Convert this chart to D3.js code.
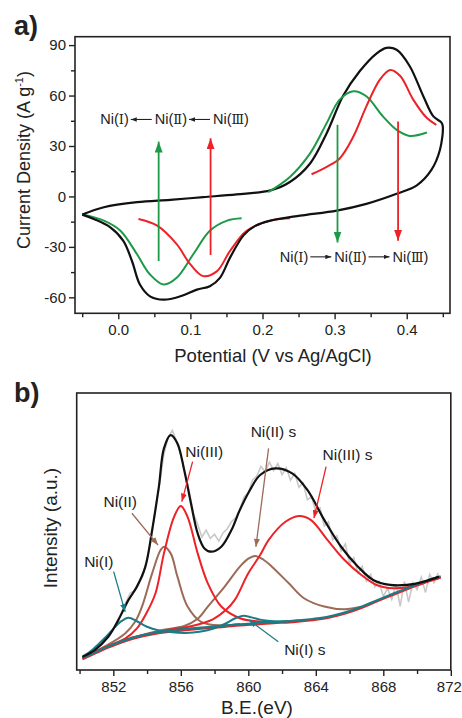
<!DOCTYPE html>
<html>
<head>
<meta charset="utf-8">
<script src="https://cdn.jsdelivr.net/npm/d3@7"></script>
<style>
  body { margin: 0; background: #fff; }
  text { font-family: "Liberation Sans", Arial, sans-serif; fill: #222; }
</style>
</head>
<body>
<svg id="chart" width="462" height="718"></svg>
<script>
// ---------- panel a : cyclic voltammogram (potential V, current A/g) ----------
const cvLoop = [
  [-0.050,-10.8],[-0.020,-6.4],[0.026,-3.4],[0.072,-2.0],[0.118,-0.4],[0.164,1.2],[0.211,3.6],
  [0.238,8.6],[0.266,19.6],[0.289,37.6],[0.312,60.0],[0.335,74.6],[0.358,85.0],[0.372,88.4],
  [0.386,87.2],[0.404,77.6],[0.423,59.6],[0.437,47.6],[0.448,44.0],[0.450,41.6],[0.446,27.6],
  [0.434,15.6],[0.414,6.6],[0.386,1.6],[0.344,-4.4],[0.303,-8.4],[0.252,-11.4],[0.211,-14.4],
  [0.190,-17.5],[0.174,-23.0],[0.155,-36.4],[0.141,-48.4],[0.127,-53.4],[0.109,-55.4],
  [0.086,-59.4],[0.063,-61.4],[0.044,-59.4],[0.030,-52.4],[0.019,-38.4],[0.007,-26.4],
  [-0.011,-18.4],[-0.034,-13.4],[-0.050,-10.8]
];
const greenCathodic = [
  [-0.050,-10.8],[-0.020,-14.4],[0.003,-20.4],[0.026,-34.4],[0.044,-46.4],[0.063,-52.4],
  [0.081,-48.4],[0.104,-34.4],[0.127,-20.4],[0.151,-14.4],[0.171,-13.0]
];
const redCathodic = [
  [0.028,-13.4],[0.054,-17.4],[0.081,-28.4],[0.100,-40.4],[0.118,-47.4],[0.137,-44.4],
  [0.155,-32.4],[0.178,-20.4],[0.211,-14.4],[0.238,-13.0]
];
const greenAnodic = [
  [0.208,2.6],[0.238,11.6],[0.266,25.6],[0.289,43.6],[0.307,57.6],[0.326,62.6],[0.344,59.6],
  [0.367,47.6],[0.386,39.6],[0.404,36.0],[0.428,38.0]
];
const redAnodic = [
  [0.268,13.2],[0.289,17.6],[0.307,22.6],[0.326,35.6],[0.344,53.6],[0.363,69.6],[0.377,75.2],
  [0.391,71.6],[0.409,57.6],[0.428,46.6],[0.441,42.6]
];
const bigArrows = [
  { x: 0.056, from: -38.4, to: 32.6, color: "green" },
  { x: 0.128, from: -34.8, to: 34.6, color: "red" },
  { x: 0.304, from: 42.6, to: -27.4, color: "green" },
  { x: 0.388, from: 44.6, to: -26.4, color: "red" }
];
const reductionText = { x: -0.025, y: 42.8, dir: -1 };
const oxidationText = { x: 0.224, y: -38.9, dir: 1 };
const numerals = ["Ⅰ", "Ⅱ", "Ⅲ"];
const xMajorA = [0.0, 0.1, 0.2, 0.3, 0.4];
const xMinorA = [-0.05, 0.05, 0.15, 0.25, 0.35, 0.45];
const yMajorA = [-60, -30, 0, 30, 60, 90];
const yMinorA = [-45, -15, 15, 45, 75];

// ---------- panel b : Ni 2p XPS (binding energy eV, intensity a.u.) ----------
const rawXps = [
  [850.17,4.8],[850.25,5.5],[850.5,6.2],[850.75,7.0],[851.0,8.3],[851.25,9.6],[851.5,11.5],
  [851.75,13.0],[852.0,14.8],[852.25,17.5],[852.5,21.0],[852.75,24.5],[853.0,27.8],[853.25,28.5],
  [853.5,31.5],[853.75,34.0],[854.0,40.5],[854.25,47.0],[854.5,58.5],[854.75,67.5],[855.0,78.0],
  [855.25,84.0],[855.5,86.5],[855.75,82.5],[856.0,77.5],[856.25,71.0],[856.5,64.5],[856.75,56.5],
  [857.0,52.5],[857.25,48.0],[857.5,50.5],[857.75,47.5],[858.0,49.0],[858.25,46.5],[858.5,49.5],
  [858.75,51.0],[859.0,53.5],[859.25,55.0],[859.5,58.0],[859.75,62.5],[860.0,64.0],[860.25,68.5],
  [860.5,70.0],[860.75,73.5],[861.0,71.5],[861.25,75.0],[861.5,72.0],[861.75,74.5],[862.0,70.5],
  [862.25,73.0],[862.5,68.5],[862.75,71.0],[863.0,66.0],[863.25,67.5],[863.5,61.5],[863.75,62.5],
  [864.0,57.0],[864.25,58.5],[864.5,52.0],[864.75,53.5],[865.0,47.0],[865.25,48.5],[865.5,43.0],
  [865.75,45.5],[866.0,38.5],[866.25,40.5],[866.5,35.0],[866.75,37.5],[867.0,32.0],[867.25,34.5],
  [867.5,30.0],[867.75,32.0],[868.0,26.5],[868.25,29.5],[868.5,25.5],[868.75,31.0],[869.0,23.0],
  [869.25,32.0],[869.5,24.5],[869.75,31.5],[870.0,29.0],[870.25,33.5],[870.5,28.0],[870.75,34.5],
  [871.0,31.5],[871.25,35.0]
];
const envelope = [
  [850.17,4.8],[850.9,7.2],[851.7,12.0],[852.3,18.1],[852.9,25.3],[853.4,30.1],[853.9,37.3],
  [854.3,50.5],[854.7,66.2],[855.0,80.0],[855.4,84.8],[855.8,81.8],[856.2,72.2],[856.6,60.2],
  [857.0,49.3],[857.4,43.9],[857.8,42.7],[858.4,44.5],[859.0,50.5],[859.5,57.8],[860.1,65.0],
  [860.7,70.4],[861.6,72.8],[862.6,71.0],[863.5,65.0],[864.5,54.2],[865.5,44.5],[866.5,37.3],
  [867.4,32.5],[868.4,30.7],[869.4,30.7],[870.4,31.9],[871.3,33.7]
];
const background = [
  [850.17,4.3],[851.0,6.6],[851.7,8.5],[852.7,10.8],[853.7,12.5],[854.6,13.6],[855.6,14.4],
  [856.6,15.0],[857.6,15.5],[858.6,16.0],[859.5,16.5],[860.5,16.9],[861.5,17.3],[862.8,17.8],
  [863.8,18.4],[864.7,19.2],[865.7,20.7],[866.7,22.8],[867.6,25.1],[868.6,27.6],[869.6,30.0],
  [870.6,32.3],[871.4,33.8]
];
const peakNi3 = [
  [850.17,4.3],[851.5,8.2],[852.7,11.3],[853.4,15.0],[853.9,19.8],[854.5,27.7],[855.0,42.1],
  [855.6,55.3],[856.0,59.2],[856.4,55.3],[857.0,42.1],[857.6,31.3],[858.4,22.9],[859.5,18.7],
  [860.5,17.6],[861.5,17.4]
];
const peakNi2 = [
  [850.17,4.3],[851.5,8.5],[852.7,13.2],[853.3,17.5],[853.7,22.9],[854.3,34.9],[854.8,43.3],
  [855.0,44.5],[855.4,42.1],[855.8,33.7],[856.4,22.9],[857.2,17.4],[858.4,16.1],[859.5,16.6]
];
const peakNi3s = [
  [853.0,11.6],[855.0,14.2],[856.6,15.8],[857.9,18.3],[858.7,21.8],[859.2,25.3],[860.0,34.9],
  [860.7,41.5],[861.2,46.9],[862.2,53.5],[863.0,55.6],[863.7,54.2],[864.7,46.9],[865.7,39.7],
  [866.7,34.3],[867.6,30.7],[868.6,29.5],[869.8,30.3],[870.6,31.8],[871.4,33.4]
];
const peakNi2s = [
  [852.7,10.9],[854.7,14.2],[856.2,15.9],[857.0,18.5],[857.6,22.9],[858.6,30.1],[859.5,37.3],
  [860.0,40.2],[860.4,41.2],[860.9,39.8],[861.4,37.3],[862.4,31.3],[863.3,25.9],[864.5,22.9],
  [865.7,21.9],[866.7,22.8]
];
const peakNi1 = [
  [850.17,4.6],[850.8,7.5],[851.4,11.0],[851.9,14.2],[852.4,17.3],[852.9,18.9],[853.4,17.6],
  [854.0,15.6],[854.7,14.3],[855.5,13.6],[856.3,13.4],[857.1,13.8],[857.9,14.9],[858.6,16.6],
  [859.2,18.6],[859.7,19.6],[860.2,19.0],[860.8,18.1],[861.5,17.6],[862.3,17.6],[863.0,17.9]
];
const xpsLabels = [
  { text: "Ni(III)",   tx: 857.39, ty: 78.7, from: [856.70,75.2], to: [856.06,60.8], color: "red" },
  { text: "Ni(II)",    tx: 852.41, ty: 60.8, from: [853.10,56.6], to: [854.65,45.1], color: "brown" },
  { text: "Ni(I)",     tx: 851.14, ty: 39.1, from: [852.02,35.5], to: [852.70,21.0], color: "teal" },
  { text: "Ni(II) s",  tx: 861.49, ty: 86.0, from: [861.20,80.0], to: [860.45,44.5], color: "brown" },
  { text: "Ni(III) s", tx: 865.88, ty: 77.6, from: [864.61,73.4], to: [863.89,54.8], color: "red" },
  { text: "Ni(I) s",   tx: 863.35, ty: 7.2,  from: [861.78,10.2], to: [860.03,18.1], color: "teal" }
];
const xMajorB = [852, 856, 860, 864, 868, 872];
const xMinorB = [850, 854, 858, 862, 866, 870];

const colors = { black: "#111", red: "#ec2227", green: "#1c9a48", brown: "#9b6b58", teal: "#1b7c86", gray: "#c9c9c9" };

const svg = d3.select("#chart");
const defs = svg.append("defs");
function marker(id, color, w, h) {
  defs.append("marker").attr("id", id)
    .attr("markerUnits", "userSpaceOnUse")
    .attr("markerWidth", w).attr("markerHeight", h)
    .attr("refX", w).attr("refY", h / 2).attr("orient", "auto")
    .append("path").attr("d", `M0,0L${w},${h / 2}L0,${h}Z`).attr("fill", color);
}
marker("bigGreen", colors.green, 11, 8);
marker("bigRed", colors.red, 11, 8);
marker("txtArrow", "#222", 6, 4.5);
marker("smRed", colors.red, 8, 6);
marker("smBrown", colors.brown, 8, 6);
marker("smTeal", colors.teal, 8, 6);

// ================= panel a =================
const xa = d3.scaleLinear().domain([-0.06, 0.46]).range([75, 450]);
const ya = d3.scaleLinear().domain([-69.5, 95]).range([313.3, 36.7]);
const ga = svg.append("g");

const lineA = d3.line().x(d => xa(d[0])).y(d => ya(d[1])).curve(d3.curveCatmullRom.alpha(0.5));

ga.append("path").datum(greenCathodic).attr("d", lineA).attr("fill", "none").attr("stroke", colors.green).attr("stroke-width", 2);
ga.append("path").datum(redCathodic).attr("d", lineA).attr("fill", "none").attr("stroke", colors.red).attr("stroke-width", 2);
ga.append("path").datum(cvLoop).attr("d", lineA).attr("fill", "none").attr("stroke", colors.black).attr("stroke-width", 2.2);
ga.append("path").datum(greenAnodic).attr("d", lineA).attr("fill", "none").attr("stroke", colors.green).attr("stroke-width", 2);
ga.append("path").datum(redAnodic).attr("d", lineA).attr("fill", "none").attr("stroke", colors.red).attr("stroke-width", 2);

ga.selectAll("line.big").data(bigArrows).join("line").attr("class", "big")
  .attr("x1", d => xa(d.x)).attr("x2", d => xa(d.x))
  .attr("y1", d => ya(d.from)).attr("y2", d => ya(d.to))
  .attr("stroke", d => colors[d.color]).attr("stroke-width", 1.8)
  .attr("marker-end", d => d.color === "green" ? "url(#bigGreen)" : "url(#bigRed)");

// Ni(I) <-> Ni(II) <-> Ni(III) texts with small arrows
function chain(spec) {
  let cx = xa(spec.x);
  const cy = ya(spec.y);
  numerals.forEach((n, i) => {
    const t = ga.append("text").attr("x", cx).attr("y", cy).attr("font-size", 14.5);
    t.append("tspan").text("Ni(");
    t.append("tspan").attr("font-family", "'DejaVu Serif', 'Liberation Serif', serif").attr("font-size", 13).text(n);
    t.append("tspan").text(")");
    cx += t.node().getComputedTextLength() + 2;
    if (i < numerals.length - 1) {
      const len = 21;
      const yy = cy - 5;
      ga.append("line")
        .attr("x1", spec.dir > 0 ? cx : cx + len).attr("x2", spec.dir > 0 ? cx + len : cx)
        .attr("y1", yy).attr("y2", yy)
        .attr("stroke", "#222").attr("stroke-width", 1.1)
        .attr("marker-end", "url(#txtArrow)");
      cx += len + 3;
    }
  });
}
chain(reductionText);
chain(oxidationText);

// axes a
ga.append("rect").attr("x", 75).attr("y", 36.7).attr("width", 375).attr("height", 276.6)
  .attr("fill", "none").attr("stroke", "#222").attr("stroke-width", 1.6);

function styleAxis(g) {
  g.select(".domain").remove();
  g.selectAll(".tick line").attr("stroke", "#222").attr("stroke-width", 1.4);
  g.selectAll(".tick text").attr("font-size", 15).attr("fill", "#222")
    .attr("font-family", "'Liberation Sans', Arial, sans-serif");
}
ga.append("g").attr("transform", "translate(0,313.3)")
  .call(d3.axisBottom(xa).tickValues(xMajorA).tickFormat(d3.format(".1f")).tickSizeOuter(0).tickSize(6).tickPadding(5))
  .call(styleAxis);
ga.append("g").attr("transform", "translate(0,313.3)")
  .call(d3.axisBottom(xa).tickValues(xMinorA).tickFormat("").tickSize(4))
  .call(styleAxis);
ga.append("g").attr("transform", "translate(75,0)")
  .call(d3.axisLeft(ya).tickValues(yMajorA).tickFormat(d => String(d)).tickSize(6).tickPadding(3))
  .call(styleAxis);
ga.append("g").attr("transform", "translate(75,0)")
  .call(d3.axisLeft(ya).tickValues(yMinorA).tickFormat("").tickSize(4))
  .call(styleAxis);

ga.append("text").attr("x", 273).attr("y", 362).attr("text-anchor", "middle").attr("font-size", 18.5)
  .text("Potential (V vs Ag/AgCl)");
const yt = ga.append("text").attr("transform", "translate(30,160) rotate(-90)").attr("text-anchor", "middle").attr("font-size", 18);
yt.append("tspan").text("Current Density (A g");
yt.append("tspan").attr("font-size", 11).attr("dy", -7).text("-1");
yt.append("tspan").attr("dy", 7).text(")");

svg.append("text").attr("x", 14).attr("y", 35).attr("font-size", 27).attr("font-weight", "bold").text("a)");

// ================= panel b =================
const xb = d3.scaleLinear().domain([849.83, 872]).range([76.7, 450.8]);
const yb = d3.scaleLinear().domain([0, 100]).range([670, 393]);
const gb = svg.append("g");
const lineB = d3.line().x(d => xb(d[0])).y(d => yb(d[1])).curve(d3.curveCatmullRom.alpha(0.5));
const rawLine = d3.line().x(d => xb(d[0])).y(d => yb(d[1]));

gb.append("path").datum(rawXps).attr("d", rawLine).attr("fill", "none").attr("stroke", colors.gray).attr("stroke-width", 1.6);
gb.append("path").datum(background).attr("d", lineB).attr("fill", "none").attr("stroke", colors.red).attr("stroke-width", 2.4)
  .attr("transform", "translate(0,1)");
gb.append("path").datum(peakNi2).attr("d", lineB).attr("fill", "none").attr("stroke", colors.brown).attr("stroke-width", 2);
gb.append("path").datum(peakNi2s).attr("d", lineB).attr("fill", "none").attr("stroke", colors.brown).attr("stroke-width", 2);
gb.append("path").datum(peakNi3).attr("d", lineB).attr("fill", "none").attr("stroke", colors.red).attr("stroke-width", 2);
gb.append("path").datum(peakNi3s).attr("d", lineB).attr("fill", "none").attr("stroke", colors.red).attr("stroke-width", 2);
gb.append("path").datum(background).attr("d", lineB).attr("fill", "none").attr("stroke", colors.teal).attr("stroke-width", 2.2);
gb.append("path").datum(peakNi1).attr("d", lineB).attr("fill", "none").attr("stroke", colors.teal).attr("stroke-width", 2);
gb.append("path").datum(envelope).attr("d", lineB).attr("fill", "none").attr("stroke", colors.black).attr("stroke-width", 2.2);

const markerFor = { red: "url(#smRed)", brown: "url(#smBrown)", teal: "url(#smTeal)" };
gb.selectAll("line.ann").data(xpsLabels).join("line").attr("class", "ann")
  .attr("x1", d => xb(d.from[0])).attr("y1", d => yb(d.from[1]))
  .attr("x2", d => xb(d.to[0])).attr("y2", d => yb(d.to[1]))
  .attr("stroke", d => colors[d.color]).attr("stroke-width", 1.3)
  .attr("marker-end", d => markerFor[d.color]);
gb.selectAll("text.ann").data(xpsLabels).join("text").attr("class", "ann")
  .attr("x", d => xb(d.tx)).attr("y", d => yb(d.ty)).attr("dy", "0.35em")
  .attr("text-anchor", "middle").attr("font-size", 15.5).text(d => d.text);

gb.append("rect").attr("x", 76.7).attr("y", 393).attr("width", 374.1).attr("height", 277)
  .attr("fill", "none").attr("stroke", "#222").attr("stroke-width", 1.6);
gb.append("g").attr("transform", "translate(0,670)")
  .call(d3.axisBottom(xb).tickValues(xMajorB).tickFormat(d3.format("d")).tickSize(6).tickPadding(5))
  .call(styleAxis)
  .call(g => g.selectAll(".tick text").filter(d => d === 872).attr("dx", -2));
gb.append("g").attr("transform", "translate(0,670)")
  .call(d3.axisBottom(xb).tickValues(xMinorB).tickFormat("").tickSize(4))
  .call(styleAxis);

gb.append("text").attr("x", 257).attr("y", 714).attr("text-anchor", "middle").attr("font-size", 19).text("B.E.(eV)");
gb.append("text").attr("transform", "translate(57,528) rotate(-90)").attr("text-anchor", "middle").attr("font-size", 19)
  .text("Intensity (a.u.)");

svg.append("text").attr("x", 14).attr("y", 402).attr("font-size", 27).attr("font-weight", "bold").text("b)");
</script>
</body>
</html>
